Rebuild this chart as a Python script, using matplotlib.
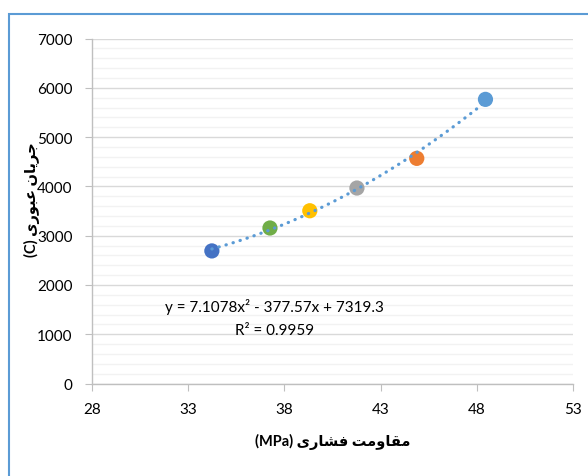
import numpy as np
import matplotlib
matplotlib.use("Agg")
import matplotlib.pyplot as plt
from matplotlib.patches import Rectangle

plt.rcParams['font.family'] = ['Lato', 'DejaVu Sans']

# data
strength = [34.23, 37.25, 39.32, 41.77, 44.88, 48.45]
charge = [2690, 3155, 3505, 3966, 4568, 5765]
colors = ['#4472C4', '#70AD47', '#FFC000', '#A5A5A5', '#ED7D31', '#5B9BD5']
eq_text = "y = 7.1078x\u00b2 - 377.57x + 7319.3"
r2_text = "R\u00b2 = 0.9959"
x_ticks = [28, 33, 38, 43, 48, 53]
y_ticks = [0, 1000, 2000, 3000, 4000, 5000, 6000, 7000]

# Persian labels in visual order with presentation forms (no shaping in matplotlib)
# "مقاومت فشاری (MPa)"
x_label = "(MPa) " + "\uFBFC\uFEAD\uFE8E\uFEB8\uFED3" + " " + "\uFE96\uFEE3\uFEED\uFE8E\uFED8\uFEE3"
# "جریان عبوری (C)"
y_label = "(C) " + "\uFBFC\uFEAD\uFEEE\uFE92\uFECB" + " " + "\uFEE5\uFE8E\uFEF3\uFEAE\uFE9F"

fig = plt.figure(figsize=(5.88, 4.77), dpi=100)
ax = fig.add_axes([92/588, 1-384.5/477, (573-92)/588, (384.5-39.5)/477])

# trendline (2nd order polynomial, like the Excel trendline)
coef = np.polyfit(strength, charge, 2)
xs = np.linspace(min(strength), max(strength), 200)
ax.plot(xs, np.polyval(coef, xs), color='#5B9BD5', lw=2.3,
        linestyle=(0, (0.1, 2.2)), dash_capstyle='round', zorder=4)

ax.scatter(strength, charge, s=120, c=colors, zorder=3, linewidths=0)

ax.set_xlim(28, 53)
ax.set_ylim(0, 7000)
ax.set_xticks(x_ticks)
ax.set_yticks(y_ticks)
ax.set_yticks(np.arange(0, 7001, 200), minor=True)
ax.grid(axis='y', which='major', color='#D9D9D9', lw=1.0, zorder=0)
ax.grid(axis='y', which='minor', color='#F2F2F2', lw=1.0, zorder=0)
ax.set_axisbelow(True)
for s in ['top', 'right']:
    ax.spines[s].set_visible(False)
for s in ['left', 'bottom']:
    ax.spines[s].set_color('#BFBFBF')
    ax.spines[s].set_linewidth(1.0)
ax.tick_params(which='major', length=5, color='#BFBFBF', labelsize=11, labelcolor='#000000')
ax.tick_params(axis='x', pad=8)
ax.tick_params(axis='y', pad=9)
ax.tick_params(which='minor', length=0)

ax.text(37.5, 1570, eq_text, ha='center', va='center', fontsize=11)
ax.text(37.5, 1090, r2_text, ha='center', va='center', fontsize=11)

fig.text(333/588, 1-442/477, x_label, ha='center', va='center', fontsize=10.5, fontweight='bold')
fig.text(32/588, 1-200/477, y_label, ha='center', va='center', fontsize=10.5, fontweight='bold', rotation=90)

# chart border (cut off at right and bottom)
fig.patches.append(Rectangle((9/588, -0.1), 1.2, 1-15/477+0.1, transform=fig.transFigure,
                             fill=False, edgecolor='#5B9BD5', lw=1.5))

fig.savefig("out.png", dpi=100)
